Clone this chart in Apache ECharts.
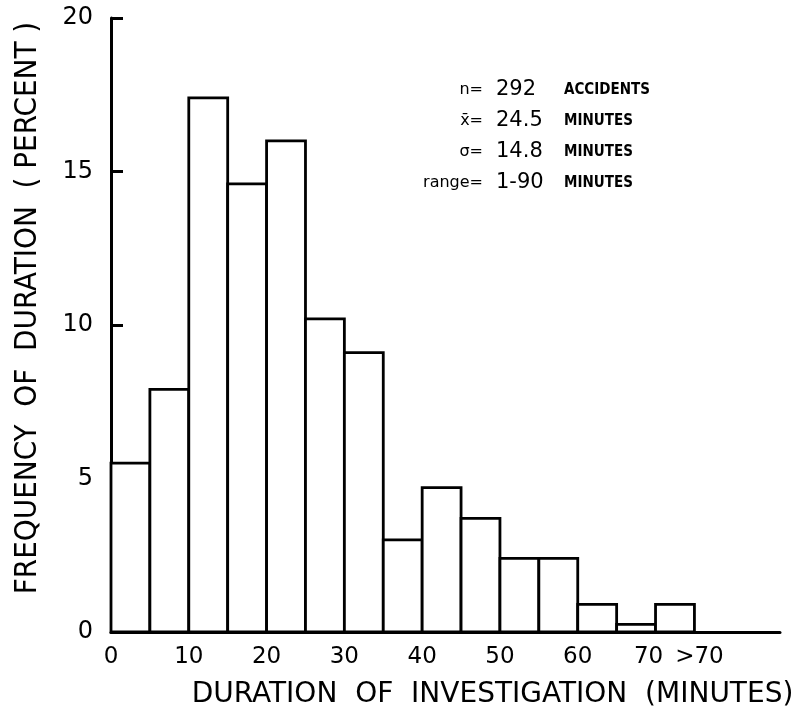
<!DOCTYPE html>
<html>
<head>
<meta charset="utf-8">
<script src="https://cdn.jsdelivr.net/npm/echarts@6/dist/echarts.min.js"></script>
<style>
html,body{margin:0;padding:0;background:#fff;}
#chart{width:807px;height:721px;}
</style>
</head>
<body>
<div id="chart"></div>
<script>
// Data (percent of 292 accidents per 5-minute bin)
const binStart = [0, 5, 10, 15, 20, 25, 30, 35, 40, 45, 50, 55, 60, 65, 70];
const binEnd   = [5, 10, 15, 20, 25, 30, 35, 40, 45, 50, 55, 60, 65, 70, 75];
const freq     = [5.5, 7.9, 17.4, 14.6, 16.0, 10.2, 9.1, 3.0, 4.7, 3.7, 2.4, 2.4, 0.9, 0.25, 0.9];
const xTickLabels = {0:'0', 10:'10', 20:'20', 30:'30', 40:'40', 50:'50', 60:'60', 70:'{a|70}', 75:'{b|>70}'};
const yTicks = [0, 5, 10, 15, 20];
const statLabels = ['n=', 'x\u0304=', '\u03C3=', 'range='];
const statValues = ['292', '24.5', '14.8', '1-90'];
const statUnits  = ['ACCIDENTS', 'MINUTES', 'MINUTES', 'MINUTES'];
const xTitle = 'DURATION  OF  INVESTIGATION  (MINUTES)';
const yTitle = 'FREQUENCY  OF  DURATION  ( PERCENT )';

const font = 'DejaVu Sans';
const chart = echarts.init(document.getElementById('chart'));

const seriesData = binStart.map((s, i) => [s, binEnd[i], freq[i]]);

const graphics = [];
statLabels.forEach((lab, i) => {
  const y = 90 + i * 31;
  graphics.push({type:'text', x:483, y:y, style:{text:lab, fill:'#000', font:'16px "DejaVu Sans"', textAlign:'right', textVerticalAlign:'middle'}});
  graphics.push({type:'text', x:496, y:y, style:{text:statValues[i], fill:'#000', font:'21px "DejaVu Sans"', textAlign:'left', textVerticalAlign:'middle'}});
  graphics.push({type:'text', x:564, y:y, style:{text:statUnits[i], fill:'#000', font:'bold 15px "DejaVu Sans Condensed"', textAlign:'left', textVerticalAlign:'middle'}});
});

chart.setOption({
  animation: false,
  backgroundColor: '#fff',
  grid: {left: 111, top: 18, right: 27, bottom: 89, containLabel: false},
  xAxis: {
    type: 'value', min: 0, max: 86, interval: 5,
    axisLine: {lineStyle: {color: '#000', width: 3}},
    axisTick: {show: false},
    splitLine: {show: false},
    axisLabel: {
      color: '#000', fontFamily: font, fontSize: 23, margin: 14,
      showMaxLabel: false,
      formatter: v => (xTickLabels[v] !== undefined ? xTickLabels[v] : ''),
      rich: {
        a: {fontFamily: font, fontSize: 23, color: '#000', padding: [0, 14, 0, 0]},
        b: {fontFamily: font, fontSize: 23, color: '#000', padding: [0, 0, 0, 10]}
      }
    },
    name: xTitle, nameLocation: 'middle', nameGap: 49,
    nameTextStyle: {color: '#000', fontFamily: font, fontSize: 28, padding: [0, 0, 0, 94]}
  },
  yAxis: {
    type: 'value', min: 0, max: 20, interval: 5,
    axisLine: {show: true, lineStyle: {color: '#000', width: 3}},
    axisTick: {show: true, inside: true, length: 12, lineStyle: {color: '#000', width: 3}},
    splitLine: {show: false},
    axisLabel: {color: '#000', fontFamily: font, fontSize: 24, margin: 18,
      formatter: v => (yTicks.indexOf(v) >= 0 ? String(v) : '')},
    name: yTitle, nameLocation: 'middle', nameGap: 68, nameRotate: 90,
    nameTextStyle: {color: '#000', fontFamily: 'DejaVu Sans Condensed', fontSize: 31, padding: [0, 0, 0, 34]}
  },
  series: [{
    type: 'custom',
    data: seriesData,
    encode: {x: [0, 1], y: 2},
    renderItem: function (params, api) {
      const p0 = api.coord([api.value(0), 0]);
      const p1 = api.coord([api.value(1), api.value(2)]);
      return {
        type: 'rect',
        shape: {x: p0[0], y: p1[1], width: p1[0] - p0[0], height: p0[1] - p1[1]},
        style: {fill: '#fff', stroke: '#000', lineWidth: 2.8}
      };
    }
  }],
  graphic: graphics
});
</script>
</body>
</html>
